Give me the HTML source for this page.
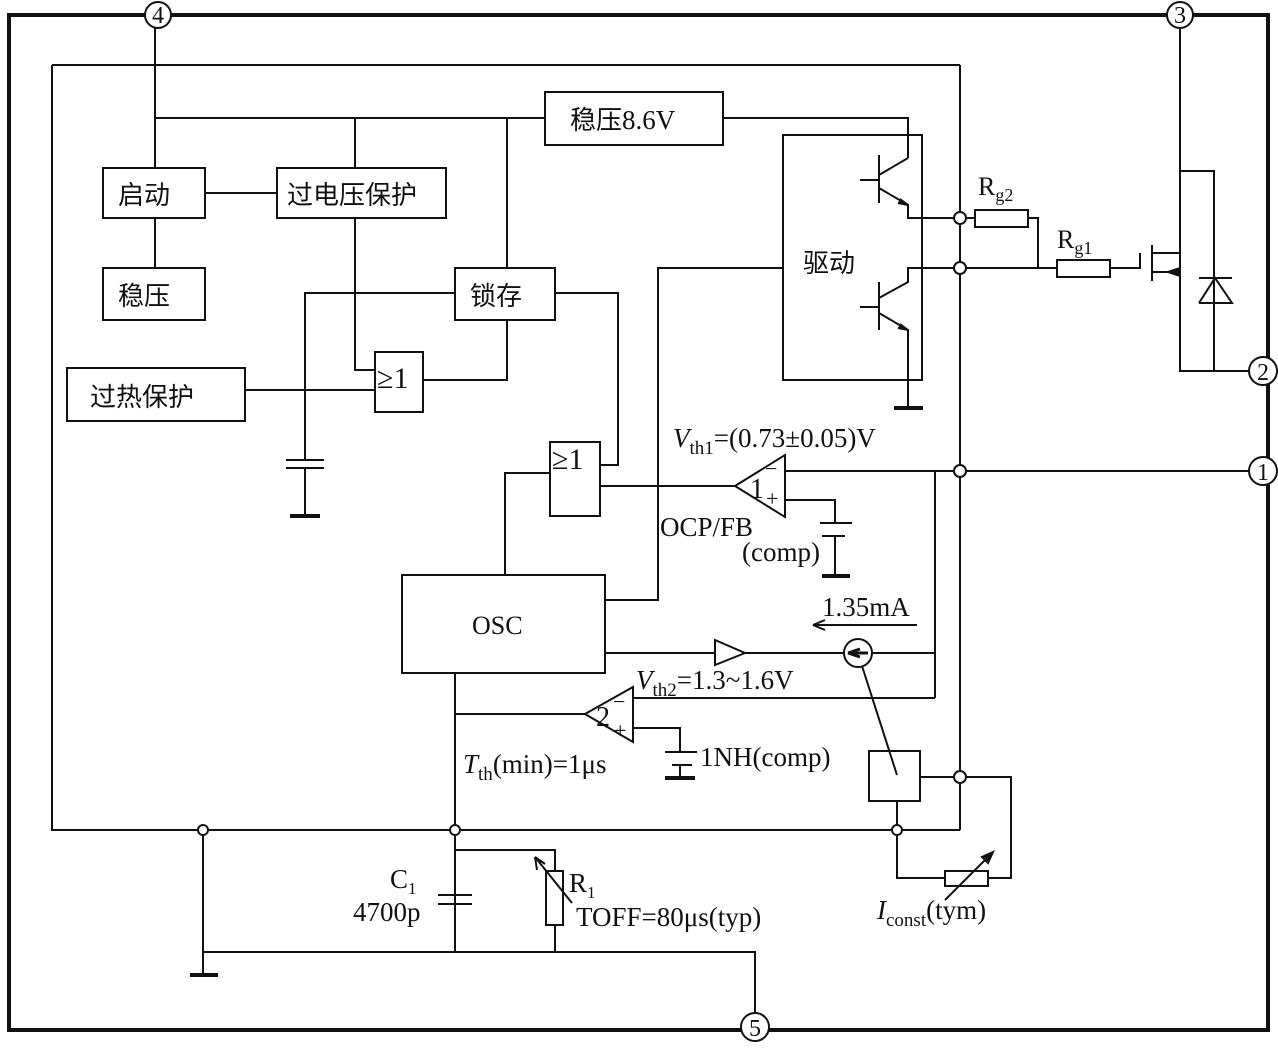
<!DOCTYPE html>
<html><head><meta charset="utf-8"><style>
html,body{margin:0;padding:0;background:#fff;}
svg text{font-family:"Liberation Serif","Noto Serif CJK SC","Noto Sans CJK SC",serif;fill:#111;}
.c{font-family:"Noto Sans CJK SC","WenQuanYi Zen Hei",sans-serif;}
</style></head><body>
<svg width="1278" height="1045" viewBox="0 0 1278 1045" xmlns="http://www.w3.org/2000/svg">
<g fill="none" stroke="#111" stroke-width="2">
<rect x="9" y="15" width="1259" height="1015" stroke-width="4"/>
<path d="M52 65 H960 M52 65 V830 H960"/>
<line x1="960" y1="65" x2="960" y2="830"/>
<path d="M155 15 V168 M155 118 H545 M355 118 V168 M507 118 V268"/>
<rect x="545" y="92" width="178" height="53"/>
<path d="M723 118 H908 V158"/>
<rect x="103" y="168" width="102" height="50"/>
<rect x="277" y="168" width="169" height="50"/>
<path d="M205 193 H277 M155 218 V268"/>
<rect x="103" y="268" width="102" height="52"/>
<rect x="455" y="268" width="100" height="52"/>
<path d="M355 218 V370 H375"/>
<rect x="375" y="352" width="48" height="60"/>
<rect x="67" y="368" width="178" height="53"/>
<path d="M245 390 H375 M423 380 H507 V320"/>
<path d="M455 293 H305 V460 M305 467 V515"/>
<path d="M286 460 H324 M286 468 H324"/>
<path d="M290 516 H320" stroke-width="4"/>
<path d="M555 293 H618 V465 H600"/>
<rect x="550" y="442" width="50" height="74"/>
<path d="M550 473 H505 V575"/>
<path d="M600 486 H735"/>
<rect x="783" y="135" width="139" height="245"/>
<rect x="402" y="575" width="203" height="98"/>
<path d="M605 600 H658 V268 H783"/>
<path d="M908 158 L879 175 M879 155 V203 M860 180 H879 M879 188 L908 205 V218 H955"/>
<path d="M900 199 L908 205 L898 203" fill="#111"/>
<path d="M955 268 H908 V282 L879 298 M879 282 V330 M860 307 H879 M879 313 L908 330 V407"/>
<path d="M900 324 L908 330 L898 328" fill="#111"/>
<path d="M894 408 H923" stroke-width="4"/>
<path d="M965 218 H975 M1028 218 H1038 V268 M965 268 H1057 M1110 268 H1140 V253"/>
<rect x="975" y="210" width="53" height="17"/>
<rect x="1057" y="260" width="53" height="17"/>
<path d="M1152 245 V281 M1152 253 H1180 M1152 272 H1180 M1180 15 V371 H1250 M1180 171 H1214 V371"/>
<path d="M1168 272 L1180 268 L1180 276 Z" fill="#111"/>
<path d="M1199 278 H1232 M1199 303 H1232 L1215 278 L1199 303"/>
<path d="M965 471 H1250 M955 471 H785"/>
<path d="M735 486 L785 455 V517 Z"/>
<path d="M785 500 H835 V523 M820 523 H852 M822 536 H845 M835 536 V575"/>
<path d="M822 576 H850" stroke-width="4"/>
<path d="M935 471 V698"/>
<path d="M605 653 H715 M745 653 H844 M872 653 H935"/>
<path d="M715 640 L745 653 L715 665 Z"/>
<circle cx="858" cy="653" r="14"/>
<path d="M848 653 H868 M848 653 L860 649 M848 653 L860 657" stroke-width="3"/>
<path d="M862 666 L897 775"/>
<path d="M813 625 H917 M813 625 L825 620 M813 625 L825 630"/>
<path d="M585 714 L633 687 V742 Z"/>
<path d="M633 698 H935 M633 728 H680 V752 M665 752 H697 M672 765 H692 M680 765 V778"/>
<path d="M665 778 H695" stroke-width="4"/>
<path d="M455 673 V952 M455 714 H585"/>
<rect x="869" y="751" width="51" height="50"/>
<path d="M920 777 H955 M965 777 H1011 V878 H988 M945 878 H897 V835 M897 801 V825"/>
<rect x="945" y="871" width="43" height="15"/>
<path d="M945 900 L993 852"/>
<path d="M993 852 L982 857 L988 863 Z" fill="#111"/>
<path d="M203 835 V952 H755 V1014 M455 850 H555 V870 M555 925 V952"/>
<path d="M190 975 H218" stroke-width="4"/>
<path d="M203 952 V975"/>
<path d="M438 895 H472 M438 904 H472"/>
<rect x="546" y="871" width="17" height="54"/>
<path d="M572 903 L535 857 M535 857 L537 870 M535 857 L545 864"/>
</g>
<g fill="#fff" stroke="#111" stroke-width="2">
<circle cx="960" cy="218" r="6"/><circle cx="960" cy="268" r="6"/>
<circle cx="960" cy="471" r="6"/><circle cx="960" cy="777" r="6"/>
<circle cx="203" cy="830" r="5"/><circle cx="455" cy="830" r="5"/><circle cx="897" cy="830" r="5"/>
<circle cx="158" cy="15" r="13"/><circle cx="1180" cy="15" r="13"/>
<circle cx="1263" cy="371" r="14"/><circle cx="1263" cy="471" r="14"/>
<circle cx="755" cy="1027" r="14"/>
</g>
<g font-size="24" text-anchor="middle">
<text x="158" y="23">4</text><text x="1180" y="23">3</text>
<text x="1263" y="380">2</text><text x="1263" y="480">1</text>
<text x="755" y="1036">5</text>
</g>
<g font-size="26">
<text class="c" x="118" y="204">启动</text>
<text class="c" x="287" y="204">过电压保护</text>
<text class="c" x="118" y="305">稳压</text>
<text class="c" x="470" y="305">锁存</text>
<text class="c" x="90" y="406">过热保护</text>
<text class="c" x="803" y="272">驱动</text>
<text class="c" x="570" y="129">稳压<tspan font-family="Liberation Serif" font-size="27">8.6V</tspan></text>
<text x="377" y="388" font-size="30">≥1</text>
<text x="552" y="469" font-size="30">≥1</text>
<text x="472" y="634" font-family="Liberation Sans">OSC</text>
<text x="978" y="195">R<tspan font-size="18" dy="6">g2</tspan></text>
<text x="1057" y="248">R<tspan font-size="18" dy="6">g1</tspan></text>
<text x="673" y="447" font-size="27"><tspan font-style="italic">V</tspan><tspan font-size="19" dy="7">th1</tspan><tspan dy="-7">=(0.73±0.05)V</tspan></text>
<text x="660" y="536" font-size="27">OCP/FB</text>
<text x="742" y="561" font-size="27">(comp)</text>
<text x="822" y="616" font-size="27">1.35mA</text>
<text x="636" y="689" font-size="27"><tspan font-style="italic">V</tspan><tspan font-size="19" dy="7">th2</tspan><tspan dy="-7">=1.3~1.6V</tspan></text>
<text x="700" y="766" font-size="27">1NH(comp)</text>
<text x="463" y="773" font-size="27"><tspan font-style="italic">T</tspan><tspan font-size="19" dy="7">th</tspan><tspan dy="-7">(min)=1μs</tspan></text>
<text x="390" y="888" font-size="27">C<tspan font-size="17" dy="6">1</tspan></text>
<text x="353" y="921" font-size="27">4700p</text>
<text x="569" y="892" font-size="27">R<tspan font-size="17" dy="6">1</tspan></text>
<text x="576" y="926" font-size="27">TOFF=80μs(typ)</text>
<text x="877" y="919" font-size="27"><tspan font-style="italic">I</tspan><tspan font-size="19" dy="7">const</tspan><tspan dy="-7">(tym)</tspan></text>
</g>
<g font-size="22" fill="#111">
<text x="765" y="476">−</text><text x="766" y="506">+</text>
<text x="750" y="498" font-size="28">1</text>
<text x="613" y="709">−</text><text x="614" y="738">+</text>
<text x="596" y="726" font-size="28">2</text>
</g>
</svg>
</body></html>
